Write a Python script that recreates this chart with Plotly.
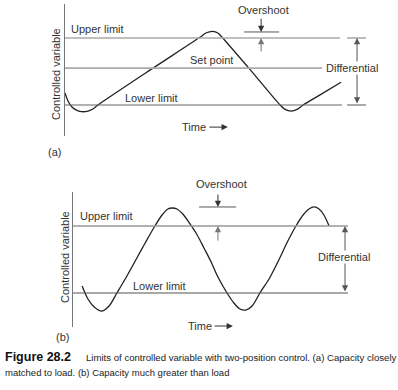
import plotly.graph_objects as go

W, H = 398, 390

# ---------------- data (time units, controlled-variable units; lower limit = 0, upper limit = 10)
# Panel (a): capacity closely matched to load
time_a = [0, 0.9, 2.1, 3.6, 5.1, 6.9, 8.4, 9.9, 25.5, 40.5, 42.3, 44.4, 45.9, 47.1,
          55.9, 64.6, 66.1, 67.9, 69.7, 71.5, 77.2, 82.9]
var_a = [1.8, 0.6, -0.3, -0.8, -1.0, -0.9, -0.6, 0.0, 5.2, 10.1, 10.75, 11.0, 10.75, 10.15,
         5.1, 0.0, -0.65, -0.9, -0.65, 0.0, 1.7, 3.4]
upper_a, setpoint_a, lower_a = 10.0, 5.5, 0.0

# Panel (b): capacity much greater than load
time_b = [2.8, 4.6, 6.5, 8.9, 11.1, 13.5, 16.6, 19.4, 22.2, 25.2, 27.4, 29.2, 30.5, 32.0,
          33.8, 36.0, 38.2, 40.3, 42.5, 44.6, 47.4, 49.5, 51.4, 53.2, 55.1, 57.5, 60.5,
          63.4, 65.8, 68.6, 70.8, 72.6, 74.2, 75.7, 77.2, 78.8]
var_b = [1.04, -0.9, -2.09, -2.69, -1.94, 0.0, 2.54, 5.0, 7.46, 10.0, 11.64, 12.54, 12.69,
         12.54, 11.79, 10.3, 8.66, 6.72, 4.63, 2.39, 0.0, -1.49, -2.39, -2.54, -1.94, 0.0,
         2.24, 5.0, 7.46, 10.0, 11.64, 12.54, 12.84, 12.54, 11.64, 10.0]
upper_b, lower_b = 10.0, 0.0
overshoot_a = 10.9
overshoot_b = 12.84

TXT = "#333333"
FONT = "Liberation Sans, Arial, sans-serif"
CAPFONT = "Liberation Sans, Arial, sans-serif"


def P(x, y):
    return x / W, 1 - y / H


fig = go.Figure()
fig.add_trace(go.Scatter(x=time_a, y=var_a, mode="lines", xaxis="x", yaxis="y",
                         line=dict(color="#222222", width=1.3, shape="spline", smoothing=0.7),
                         hoverinfo="skip", showlegend=False))
fig.add_trace(go.Scatter(x=time_b, y=var_b, mode="lines", xaxis="x2", yaxis="y2",
                         line=dict(color="#222222", width=1.3, shape="spline", smoothing=0.9),
                         hoverinfo="skip", showlegend=False))

shapes = []


def hline(xr, yr, x0, x1, y, color, width):
    shapes.append(dict(type="line", xref=xr, yref=yr, x0=x0, x1=x1, y0=y, y1=y,
                       line=dict(color=color, width=width)))


# panel (a) reference lines
hline("x", "y", 0, 82.6, upper_a, "#aaaaaa", 1.6)
hline("x", "y", 0, 77.2, setpoint_a, "#aaaaaa", 1.6)
hline("x", "y", 0, 83.2, lower_a, "#666666", 1.1)
hline("x", "y", 84.7, 90.4, upper_a, "#aaaaaa", 1.6)
hline("x", "y", 84.7, 90.4, lower_a, "#666666", 1.1)
hline("x", "y", 53.8, 64.3, overshoot_a, "#555555", 1.0)
# panel (b) reference lines
hline("x2", "y2", 0, 84.6, upper_b, "#999999", 1.4)
hline("x2", "y2", 0, 84.6, lower_b, "#555555", 1.1)
hline("x2", "y2", 38.8, 50.2, overshoot_b, "#555555", 1.0)

ann = []


def arrow(xr, yr, x_head, y_head, x_tail, y_tail, color="#333333", both=False):
    d = dict(xref=xr, yref=yr, axref=xr, ayref=yr, x=x_head, y=y_head, ax=x_tail, ay=y_tail,
             text="", showarrow=True, arrowhead=2, arrowsize=1.25, arrowwidth=1,
             arrowcolor=color, standoff=0, startstandoff=0)
    if both:
        d["arrowside"] = "end+start"
        d["startarrowhead"] = 2
        d["startarrowsize"] = 1.25
    ann.append(d)


def label(text, x, y, xanchor="left", size=11, font=FONT, color=TXT, bg=None, angle=0):
    px, py = P(x, y)
    d = dict(xref="paper", yref="paper", x=px, y=py, text=text, showarrow=False,
             xanchor=xanchor, yanchor="middle", textangle=angle,
             font=dict(family=font, size=size, color=color))
    if bg:
        d["bgcolor"] = bg
        d["borderpad"] = 0
    ann.append(d)


# panel (a) arrows
arrow("x", "y", 87.7, upper_a, 87.7, lower_a, "#555555", both=True)
arrow("x", "y", 58.9, overshoot_a, 58.9, 13.1, "#333333")
arrow("x", "y", 58.9, upper_a, 58.9, 7.76, "#777777")
arrow("x", "y", 48.9, -3.3, 42.9, -3.3, "#333333")
# panel (b) arrows
arrow("x2", "y2", 83.7, upper_b, 83.7, lower_b, "#555555", both=True)
arrow("x2", "y2", 44.6, overshoot_b, 44.6, 14.9, "#333333")
arrow("x2", "y2", 44.6, upper_b, 44.6, 7.6, "#777777")
arrow("x2", "y2", 49.2, -4.93, 43.1, -4.93, "#333333")

# panel (a) text
label("Upper limit", 69, 29)
label("Set point", 211, 60, "center")
label("Lower limit", 123, 98)
label("Time", 180, 127)
label("Overshoot", 263, 10, "center")
label("Differential", 352, 68, "center", bg="white")
label("Controlled variable", 56, 74, "center", angle=-90)
label("(a)", 55, 152, "center")
# panel (b) text
label("Upper limit", 78, 216)
label("Lower limit", 131, 286)
label("Time", 186, 326)
label("Overshoot", 221, 184, "center")
label("Differential", 344, 257, "center", bg="white")
label("Controlled variable", 65, 257, "center", angle=-90)
label("(b)", 62, 337, "center")

# caption
label("<b>Figure 28.2</b>", 3, 357, size=12.5, color="#111111")
label("Limits of controlled variable with two-position control. (a) Capacity closely",
      84, 357, size=9.6, font=CAPFONT, color="#222222")
label("matched to load. (b) Capacity much greater than load",
      3, 372, size=9.5, font=CAPFONT, color="#222222")

xa = dict(range=[0, 100], visible=False, fixedrange=True)
ya_common = dict(showline=True, linecolor="#777777", linewidth=1, showgrid=False,
                 zeroline=False, showticklabels=False, ticks="", fixedrange=True)

fig.update_layout(
    width=W, height=H, margin=dict(l=0, r=0, t=0, b=0),
    paper_bgcolor="white", plot_bgcolor="rgba(0,0,0,0)",
    xaxis=dict(xa, domain=[65 / W, 1], anchor="y"),
    yaxis=dict(ya_common, domain=[1 - 136 / H, 1 - 4 / H], range=[-4.627, 15.075], anchor="x"),
    xaxis2=dict(xa, domain=[73 / W, 1], anchor="y2"),
    yaxis2=dict(ya_common, domain=[1 - 327 / H, 1 - 192 / H], range=[-5.075, 15.075], anchor="x2"),
    shapes=shapes, annotations=ann, showlegend=False,
)

fig.write_html("out.html", config={"displayModeBar": False})
